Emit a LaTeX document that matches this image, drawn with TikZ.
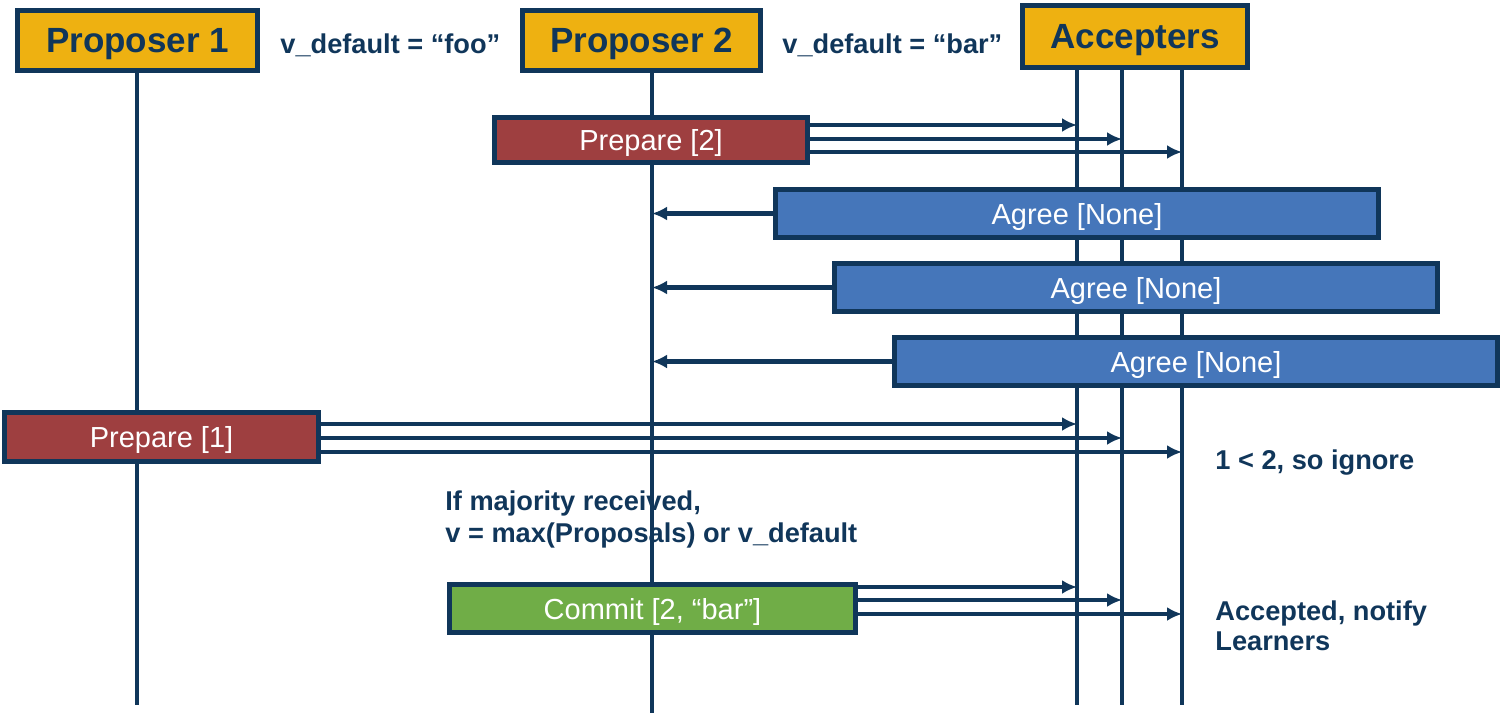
\documentclass[tikz,border=0pt]{standalone}
\usepackage{fontspec}
\setmainfont{Liberation Sans}
\usetikzlibrary{arrows.meta,calc}
\definecolor{navy}{HTML}{10365A}
\definecolor{gold}{HTML}{EEB111}
\definecolor{brick}{HTML}{9E3F40}
\definecolor{steel}{HTML}{4576BA}
\definecolor{leaf}{HTML}{70AD47}
\tikzset{
  actor/.style={draw=navy, line width=2.5pt, fill=gold, text=navy, inner sep=0pt,
    text depth=0pt, font=\fontsize{17.5}{21}\selectfont\bfseries},
  msgbox/.style={draw=navy, line width=2.5pt, text=white, inner sep=0pt,
    text depth=0pt, minimum height=24pt, font=\fontsize{14.5}{17}\selectfont},
  note/.style={text=navy, anchor=west, inner sep=0pt, align=left,
    font=\fontsize{13.6}{16}\selectfont\bfseries},
  life/.style={navy, line width=2pt},
  msg/.style={navy, line width=2.2pt, -{Latex[length=7.5pt,width=7pt]}}
}
\begin{document}
\begin{tikzpicture}[x=0.5pt,y=-0.5pt]
  \useasboundingbox (0,0) rectangle (1502,713);
  % lifelines
  \coordinate (l1) at (137,73);   \coordinate (l1e) at (137,705);
  \coordinate (l2) at (652,73);   \coordinate (l2e) at (652,713);
  \foreach \x [count=\i] in {1077,1122,1182} {
    \coordinate (a\i) at (\x,70); \coordinate (a\i e) at (\x,705);
    \draw[life] (a\i) -- (a\i e);
  }
  \draw[life] (l1) -- (l1e);
  \draw[life] (l2) -- (l2e);

  \node[actor, minimum width=120pt, minimum height=30pt] (p1) at (137.5,40.5) {Proposer 1};
  \node[actor, minimum width=119pt, minimum height=30pt] (p2) at (641.5,40.5) {Proposer 2};
  \node[actor, minimum width=112.5pt, minimum height=31pt] (acc) at (1135,36.5) {Accepters};
  \node[note] (vfoo) at (280,45) {v\_default = “foo”};
  \node[note] (vbar) at (782,45) {v\_default = “bar”};

  % prepare 2
  \node[msgbox, fill=brick, minimum width=156.5pt, minimum height=22.5pt] (pr2) at (651,140) {Prepare [2]};
  \draw[msg] ($(pr2.east)+(0,-15)$) coordinate (t) -- (t -| a1);
  \draw[msg] ($(pr2.east)+(0,-1)$) coordinate (t) -- (t -| a2);
  \draw[msg] ($(pr2.east)+(0,12)$) coordinate (t) -- (t -| a3);

  % agree replies
  \foreach \cx/\cy [count=\i] in {1077/213.5,1136/287.5,1196/361.5} {
    \node[msgbox, fill=steel, minimum width=301.5pt] (ag\i) at (\cx,\cy) {Agree [None]};
    \draw[msg] (ag\i.west) -- (ag\i.west -| l2);
  }

  % prepare 1
  \node[msgbox, fill=brick, minimum width=157pt, minimum height=24.5pt] (pr1) at (161.5,437) {Prepare [1]};
  \draw[msg] ($(pr1.east)+(0,-13)$) coordinate (t) -- (t -| a1);
  \draw[msg] ($(pr1.east)+(0,1)$) coordinate (t) -- (t -| a2);
  \draw[msg] ($(pr1.east)+(0,15)$) coordinate (t) -- (t -| a3);
  \node[note] (ign) at (1215,463) {1 < 2, so ignore};

  \node[note, anchor=north west] (maj) at (445,490) {If majority received,\\ v = max(Proposals) or v\_default};

  % commit
  \node[msgbox, fill=leaf, minimum width=203pt] (cm) at (652.5,608.5) {Commit [2, “bar”]};
  \draw[msg] ($(cm.east)+(0,-21.5)$) coordinate (t) -- (t -| a1);
  \draw[msg] ($(cm.east)+(0,-8.5)$) coordinate (t) -- (t -| a2);
  \draw[msg] ($(cm.east)+(0,5.5)$) coordinate (t) -- (t -| a3);
  \node[note, anchor=north west] (accd) at (1215,600) {Accepted, notify\\[-1pt] Learners};
\end{tikzpicture}
\end{document}
